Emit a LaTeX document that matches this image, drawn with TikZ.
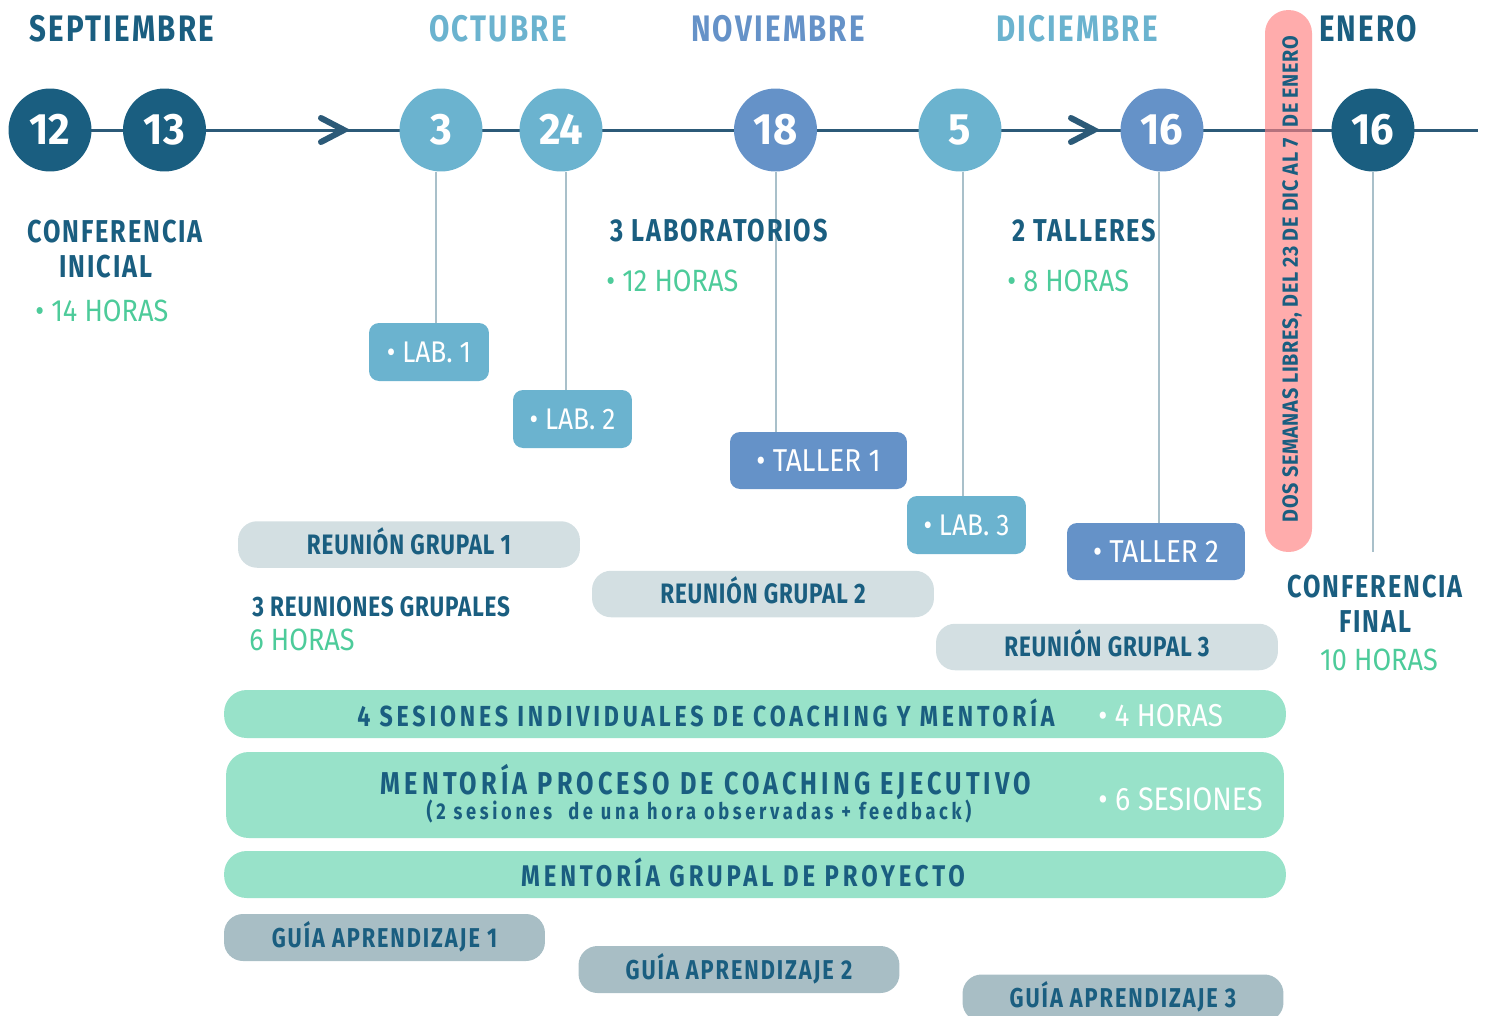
\documentclass[tikz,border=0pt]{standalone}
\usepackage{fontspec}
\setmainfont{Fira Sans}
\newfontfamily\fR[FakeStretch=0.88]{Fira Sans}
\newfontfamily\fD[FakeStretch=0.95]{Fira Sans}
\newfontfamily\fW[FakeStretch=0.8,LetterSpace=6]{Fira Sans}
\newfontfamily\fB[FakeStretch=0.8,LetterSpace=13]{Fira Sans}
\newfontfamily\fS[FakeStretch=0.8,LetterSpace=16]{Fira Sans}
\newfontfamily\fN[FakeStretch=0.8,LetterSpace=3]{Fira Sans}
\newfontfamily\fG[FakeStretch=0.8,LetterSpace=7]{Fira Sans}
\newfontfamily\fP[FakeStretch=0.9,LetterSpace=3]{Fira Sans}
\usetikzlibrary{calc}
\definecolor{dblue}{HTML}{1A5E80}
\definecolor{lblue}{HTML}{6BB3CF}
\definecolor{mblue}{HTML}{6592C8}
\definecolor{tline}{HTML}{2C5A78}
\definecolor{dropc}{HTML}{A9C0CA}
\definecolor{hgreen}{HTML}{4DCB9A}
\definecolor{rgray}{HTML}{D3DFE2}
\definecolor{gbar}{HTML}{98E2C9}
\definecolor{ggray}{HTML}{A8BEC5}
\definecolor{pinkb}{HTML}{FF8080}
\begin{document}
\begin{tikzpicture}[x=0.02cm,y=-0.02cm,
 day/.style={circle,minimum size=1.66cm,inner sep=0,text=white,text height=17pt,text depth=0pt,font=\fD\bfseries\fontsize{25}{25}\selectfont},
 month/.style={anchor=base,inner sep=0,font=\fW\bfseries\fontsize{21}{24}\selectfont},
 head/.style={anchor=base,inner sep=0,font=\fW\bfseries\fontsize{18}{21}\selectfont,text=dblue},
 headw/.style={head,anchor=base west},
 hours/.style={anchor=base west,inner sep=0,font=\fR\fontsize{17.5}{20}\selectfont,text=hgreen},
 tag/.style={rounded corners=0.2cm,minimum height=1.16cm,inner sep=0,text=white,text height=12pt,text depth=0pt,font=\fR\fontsize{17}{20}\selectfont},
 meet/.style={rounded corners=0.38cm,fill=rgray,minimum width=6.84cm,minimum height=0.93cm,inner sep=0,text=dblue,text height=11pt,text depth=0pt,font=\fN\bfseries\fontsize{16}{19}\selectfont},
 bar/.style={fill=gbar,rounded corners=0.45cm,minimum width=21.24cm,inner sep=0},
 bartext/.style={anchor=base,inner sep=0,text=dblue,font=\fB\bfseries\fontsize{16.5}{19}\selectfont},
 barnote/.style={anchor=base west,inner sep=0,text=white,font=\fR\fontsize{18}{20}\selectfont},
 guide/.style={fill=ggray,rounded corners=0.38cm,minimum width=6.42cm,minimum height=0.94cm,inner sep=0,text=dblue,text height=11pt,text depth=0pt,font=\fG\bfseries\fontsize{15.5}{18}\selectfont},
 dropline/.style={draw=dropc,line width=0.04cm},
 chev/.style={draw=tline,line width=0.12cm,line cap=round,line join=miter}
]
\useasboundingbox (0,0) rectangle (1485,1015);
\clip (0,0) rectangle (1485,1015);

% timeline
\coordinate (tl0) at (91,130);
\coordinate (tl1) at (1478,130);
\draw[tline,line width=0.06cm] (tl0) -- (tl1);
\draw[chev] (321,118) -- (344,130) -- (321,142);
\draw[chev] (1071,118) -- (1094,130) -- (1071,142);

% months
\node[month,text=dblue] (mSep) at (122,41) {SEPTIEMBRE};
\node[month,text=lblue] (mOct) at (498,41) {OCTUBRE};
\node[month,text=mblue] (mNov) at (778,41) {NOVIEMBRE};
\node[month,text=lblue] (mDic) at (1077,41) {DICIEMBRE};
\node[month,text=dblue] (mEne) at (1368,41) {ENERO};

% days
\node[day,fill=dblue] (c12) at (50,130) {12};
\node[day,fill=dblue] (c13) at (164.5,130) {13};
\node[day,fill=lblue] (c3) at (441,130) {3};
\node[day,fill=lblue] (c24) at (561,130) {24};
\node[day,fill=mblue] (c18) at (775.5,130) {18};
\node[day,fill=lblue] (c5) at (960,130) {5};
\node[day,fill=mblue] (c16) at (1162,130) {16};
\node[day,fill=dblue] (c16e) at (1373,130) {16};

% pink break
\node[fill=pinkb,fill opacity=0.65,rounded corners=0.46cm,minimum width=0.94cm,minimum height=10.84cm,inner sep=0] (pink) at (1288.5,281) {};
\node[rotate=90,inner sep=0,text=dblue,text height=9pt,text depth=0pt,font=\fP\bfseries\fontsize{12.5}{14}\selectfont] (pinktxt) at (1290,279) {DOS SEMANAS LIBRES, DEL 23 DE DIC AL 7\ \ DE ENERO};

% tags
\node[tag,fill=lblue,minimum width=2.4cm] (lab1) at (429,352) {• LAB. 1};
\node[tag,fill=lblue,minimum width=2.38cm] (lab2) at (572.5,419) {• LAB. 2};
\node[tag,fill=mblue,minimum width=3.54cm,minimum height=1.14cm,font=\fR\fontsize{18}{20}\selectfont] (t1) at (818.5,460.5) {• TALLER 1};
\node[tag,fill=lblue,minimum width=2.38cm] (lab3) at (966.5,525) {• LAB. 3};
\node[tag,fill=mblue,minimum width=3.56cm,minimum height=1.14cm,font=\fR\fontsize{18}{20}\selectfont] (t2) at (1156,551.5) {• TALLER 2};
\coordinate (endF) at (1373,552);

\draw[dropline] ([xshift=-0.1cm]c3.south) -- ([xshift=-0.1cm]c3.south |- lab1.north);
\draw[dropline] ([xshift=0.1cm]c24.south) -- ([xshift=0.1cm]c24.south |- lab2.north);
\draw[dropline] (c18.south) -- (c18.south |- t1.north);
\draw[dropline] ([xshift=0.06cm]c5.south) -- ([xshift=0.06cm]c5.south |- lab3.north);
\draw[dropline] ([xshift=-0.06cm]c16.south) -- ([xshift=-0.06cm]c16.south |- t2.north);
\draw[dropline] (c16e.south) -- (endF);

% headings
\node[head] (ci1) at (115,242) {CONFERENCIA};
\node[head] (ci2) at (106,277) {INICIAL};
\node[hours] (ci3) at (35,321) {• 14 HORAS};
\node[headw] (lb1) at (610,241) {3 LABORATORIOS};
\node[hours] (lb2) at (606,291) {• 12 HORAS};
\node[headw] (ta1) at (1012,241) {2 TALLERES};
\node[hours] (ta2) at (1007,291) {• 8 HORAS};
\node[head] (cf1) at (1375,597) {CONFERENCIA};
\node[head] (cf2) at (1375,632) {FINAL};
\node[hours,anchor=base] (cf3) at (1379,670) {10 HORAS};
\node[anchor=base west,inner sep=0,text=dblue,font=\fN\bfseries\fontsize{16}{19}\selectfont] (rh1) at (252,616) {3 REUNIONES GRUPALES};
\node[hours] (rh2) at (249,650) {6 HORAS};

% meetings
\node[meet] (rg1) at (409,544.5) {REUNIÓN GRUPAL 1};
\node[meet] (rg2) at (763,594) {REUNIÓN GRUPAL 2};
\node[meet] (rg3) at (1107,647) {REUNIÓN GRUPAL 3};

% bars
\node[bar,minimum height=0.96cm] (b1) at (755,714) {};
\node[bartext] (b1t) at (706,726) {4 SESIONES INDIVIDUALES DE COACHING Y MENTORÍA};
\node[barnote] (b1h) at (1098,726) {• 4 HORAS};
\node[bar,minimum width=21.16cm,minimum height=1.72cm] (b2) at (755,795) {};
\node[bartext,font=\fB\bfseries\fontsize{18}{20}\selectfont] (b2t) at (706,794) {MENTORÍA PROCESO DE COACHING EJECUTIVO};
\node[bartext,font=\fS\bfseries\fontsize{13}{15}\selectfont] (b2s) at (699,819) {(2 sesiones\ \ de una hora observadas + feedback)};
\node[barnote,font=\fR\fontsize{18.5}{20}\selectfont] (b2h) at (1098,810) {• 6 SESIONES};
\node[bar,minimum height=0.94cm] (b3) at (755,874.5) {};
\node[bartext,font=\fB\bfseries\fontsize{17}{20}\selectfont] (b3t) at (743,886) {MENTORÍA GRUPAL DE PROYECTO};

% guides
\node[guide] (g1) at (384.5,937.5) {GUÍA APRENDIZAJE 1};
\node[guide] (g2) at (739,969.5) {GUÍA APRENDIZAJE 2};
\node[guide] (g3) at (1123,998) {GUÍA APRENDIZAJE 3};
\end{tikzpicture}
\end{document}
